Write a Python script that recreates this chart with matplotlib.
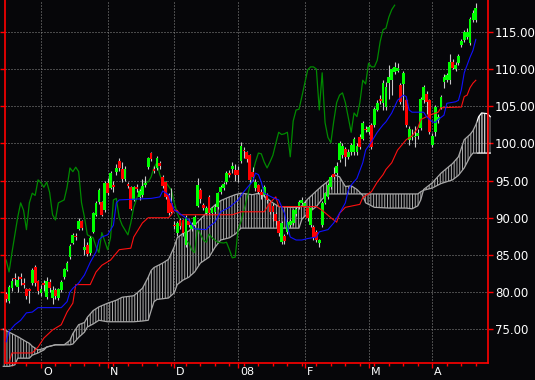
import numpy as np
import matplotlib
matplotlib.use('Agg')
import matplotlib.pyplot as plt
from matplotlib.patches import Rectangle
from matplotlib.transforms import ScaledTranslation

plt.rcParams['font.family'] = ['Liberation Sans Narrow', 'DejaVu Sans']
plt.rcParams['hatch.linewidth'] = 0.72

# --- daily candles (trading day index 0..162) ---
opens = [79.7, 78.8, 80.5, 81.9, 80.7, 82.0, 81.2, 80.4, 80.4, 81.2, 83.4, 81.5, 79.9, 81.1, 79.3, 81.3,
         79.2, 80.3, 79.2, 80.3, 82.0, 83.0, 84.7, 86.6, 87.6, 88.5, 89.6, 85.7, 86.3, 85.3, 88.1, 90.4,
         92.1, 92.1, 91.0, 94.7, 94.0, 94.4, 96.2, 97.6, 96.6, 95.2, 94.5, 94.1, 92.4, 94.1, 92.8, 93.1,
         94.4, 96.8, 98.7, 96.5, 96.7, 97.4, 95.5, 94.8, 93.1, 92.0, 89.0, 88.0, 89.7, 89.7, 86.3, 89.5,
         88.5, 89.0, 91.6, 93.7, 91.7, 90.6, 92.8, 90.6, 90.8, 91.4, 93.5, 94.0, 94.8, 96.0, 96.5, 96.4,
         96.4, 97.6, 99.1, 98.8, 98.4, 96.2, 94.0, 94.4, 93.5, 93.1, 93.1, 92.0, 91.6, 90.5, 89.5, 86.8,
         87.5, 88.1, 89.0, 89.3, 90.5, 91.5, 92.0, 91.6, 91.3, 89.0, 88.8, 88.1, 86.6, 89.0, 92.0, 92.8,
         94.1, 95.9, 96.0, 97.8, 98.5, 99.2, 98.2, 98.9, 98.9, 98.8, 100.9, 100.6, 102.0, 101.5, 102.5, 102.5,
         104.5, 106.0, 105.4, 104.9, 108.1, 108.5, 109.6, 109.8, 107.9, 108.0, 105.8, 100.5, 100.8, 100.8, 101.0, 102.1,
         105.8, 106.7, 105.8, 99.8, 101.5, 103.2, 104.8, 108.3, 108.5, 108.5, 110.9, 110.0, 110.8, 113.3, 113.9, 114.3,
         113.5, 116.6, 116.6]
highs = [80.0, 81.0, 81.9, 82.6, 82.2, 82.5, 81.9, 80.6, 80.6, 83.2, 83.6, 81.6, 81.0, 81.6, 82.0, 81.8,
         80.8, 80.6, 80.6, 81.6, 83.3, 84.2, 86.4, 88.0, 88.0, 90.0, 89.7, 87.3, 86.8, 87.5, 90.8, 92.2,
         94.0, 92.3, 95.0, 95.3, 96.3, 95.0, 97.2, 98.0, 97.5, 96.9, 94.8, 94.3, 94.3, 94.5, 93.9, 95.2,
         95.6, 98.2, 98.9, 97.0, 98.3, 97.7, 95.7, 95.0, 93.3, 94.0, 89.5, 89.5, 90.0, 89.8, 90.3, 89.8,
         89.4, 90.4, 95.3, 94.0, 92.0, 91.6, 93.0, 91.5, 91.8, 93.5, 94.4, 94.8, 96.3, 96.4, 97.5, 97.2,
         97.0, 100.2, 99.5, 99.0, 98.6, 96.8, 95.2, 94.6, 93.8, 94.4, 93.3, 92.2, 92.0, 90.8, 89.7, 89.5,
         87.8, 89.6, 89.8, 91.2, 91.5, 92.4, 92.8, 92.3, 91.5, 91.5, 89.0, 88.3, 87.2, 92.2, 93.5, 94.7,
         95.7, 96.8, 97.5, 100.3, 100.0, 99.5, 99.2, 100.0, 100.8, 100.0, 101.2, 103.0, 102.3, 102.5, 102.8, 104.9,
         105.8, 106.5, 108.5, 108.2, 110.5, 110.2, 111.0, 110.8, 108.1, 109.8, 106.0, 102.3, 102.0, 102.3, 102.0, 106.3,
         107.9, 107.0, 106.0, 101.4, 105.2, 104.0, 106.5, 109.3, 109.5, 112.0, 111.3, 111.0, 112.0, 114.0, 115.3, 115.5,
         117.0, 118.0, 118.9]
lows = [78.6, 78.5, 80.2, 80.9, 80.0, 81.0, 80.5, 79.0, 78.5, 81.0, 80.8, 79.8, 79.4, 80.2, 79.0, 80.0,
        78.4, 79.0, 78.9, 80.0, 81.8, 82.8, 84.5, 86.4, 87.0, 88.3, 88.3, 85.0, 84.9, 85.0, 88.0, 90.2,
        91.9, 90.2, 90.8, 93.0, 93.8, 93.5, 95.8, 96.3, 94.8, 95.0, 94.0, 91.0, 92.2, 93.5, 92.4, 92.8,
        94.2, 96.5, 97.6, 96.0, 96.4, 96.6, 94.0, 92.5, 90.4, 90.6, 88.5, 87.5, 88.5, 87.6, 86.0, 88.7,
        88.2, 88.8, 91.4, 92.0, 91.0, 90.3, 90.4, 90.3, 90.5, 91.2, 93.2, 93.7, 94.5, 95.5, 96.0, 95.0,
        94.8, 97.3, 98.0, 97.5, 94.8, 95.0, 93.6, 93.2, 92.5, 92.8, 92.0, 90.5, 89.5, 89.0, 87.5, 86.4,
        86.5, 87.8, 88.7, 89.0, 90.2, 91.2, 91.8, 91.4, 89.6, 88.8, 87.0, 86.7, 86.0, 88.8, 91.8, 92.5,
        93.8, 95.2, 95.8, 97.5, 98.0, 97.0, 97.9, 98.5, 98.5, 98.5, 99.2, 100.4, 101.5, 101.2, 99.2, 102.2,
        104.3, 105.3, 104.5, 104.5, 106.0, 106.5, 109.3, 109.6, 105.3, 104.5, 102.2, 99.8, 100.5, 99.5, 100.6, 101.8,
        105.5, 104.0, 101.2, 99.5, 101.0, 102.8, 104.6, 107.5, 108.2, 108.0, 110.0, 109.8, 110.5, 113.0, 113.6, 114.0,
        113.3, 116.3, 116.3]
closes = [79.0, 80.7, 81.5, 81.7, 81.6, 81.8, 81.0, 79.5, 80.2, 83.0, 81.2, 80.2, 80.4, 81.0, 81.5, 80.6,
          80.3, 79.4, 80.4, 81.4, 83.1, 83.9, 86.2, 87.7, 87.4, 89.6, 88.6, 86.1, 85.1, 87.3, 90.6, 92.0,
          93.7, 90.4, 94.7, 93.3, 96.0, 94.2, 96.7, 96.7, 95.2, 96.6, 94.3, 91.2, 94.1, 93.9, 93.6, 94.3,
          94.7, 98.0, 97.9, 96.3, 98.0, 97.0, 94.3, 92.8, 90.6, 90.8, 88.9, 89.3, 88.9, 88.0, 90.1, 89.0,
          89.0, 90.1, 94.4, 92.5, 91.3, 91.3, 90.6, 91.3, 91.5, 93.3, 94.1, 94.6, 96.0, 95.8, 96.9, 95.8,
          95.8, 99.7, 99.0, 97.9, 95.1, 95.5, 94.8, 93.5, 93.1, 94.1, 92.4, 90.8, 90.8, 89.5, 88.0, 89.3,
          86.9, 89.4, 89.6, 91.0, 91.2, 92.1, 92.4, 92.0, 89.9, 91.3, 87.3, 87.0, 87.0, 92.0, 93.3, 94.4,
          95.5, 95.5, 97.0, 100.0, 99.6, 98.2, 98.9, 99.8, 100.6, 99.6, 99.5, 102.8, 101.8, 102.2, 99.5, 104.6,
          105.4, 105.7, 108.1, 107.6, 109.0, 110.0, 110.3, 110.2, 105.6, 109.5, 102.5, 102.0, 101.0, 101.0, 101.4, 106.0,
          107.6, 105.6, 101.5, 101.0, 104.9, 103.5, 106.3, 109.0, 109.2, 111.0, 110.2, 110.6, 111.8, 113.8, 115.0, 115.0,
          116.7, 117.5, 118.2]

# --- Ichimoku lines, sampled at trading-day positions ---
tenkan_day = [0, 1, 3, 5, 7, 9, 11, 19, 21, 22, 23, 25, 27, 29, 31, 32, 33, 35, 37, 38, 39, 50, 53, 54, 56,
              58, 59, 63, 65, 69, 70, 72, 74, 77, 80, 82, 85, 86, 87, 88, 89, 92, 94, 96, 97, 98, 100, 102,
              104, 107, 108, 111, 113, 115, 117, 118, 119, 121, 123, 124, 126, 128, 130, 131, 133, 135, 137,
              138, 139, 140, 144, 145, 147, 148, 149, 151, 152, 155, 156, 157, 158, 160, 161, 162]
tenkan = [73.3, 74.7, 75.6, 76.2, 77.2, 77.3, 77.9, 77.9, 78.7, 80.0, 80.5, 81.2, 82.3, 84.0, 85.4, 87.0,
          87.4, 87.7, 89.0, 92.0, 92.4, 92.6, 92.8, 93.6, 93.1, 91.0, 90.8, 89.7, 88.5, 88.4, 88.8, 89.4,
          90.8, 91.4, 92.4, 93.5, 94.9, 96.0, 95.8, 94.8, 93.3, 92.7, 92.4, 90.6, 88.8, 87.4, 87.0, 87.0,
          87.2, 87.4, 88.1, 88.4, 89.3, 90.6, 92.0, 93.7, 94.4, 95.3, 97.4, 99.1, 100.2, 101.5, 102.5, 102.9,
          104.1, 105.8, 106.5, 106.3, 104.5, 104.2, 104.2, 103.6, 102.9, 102.8, 103.2, 103.8, 105.4, 105.6,
          105.8, 107.2, 109.5, 111.6, 112.5, 114.0]

kijun_day = [0, 1, 2, 9, 11, 13, 16, 19, 21, 23, 24, 29, 31, 33, 36, 39, 43, 44, 47, 49, 56, 57, 58, 59,
             60, 78, 81, 89, 91, 93, 94, 107, 109, 112, 114, 115, 117, 122, 123, 126, 128, 130, 131, 133,
             135, 138, 140, 142, 143, 146, 149, 150, 157, 158, 159, 160, 161, 162]
kijun = [70.0, 70.5, 71.8, 71.8, 72.6, 73.8, 74.9, 75.6, 77.3, 78.5, 81.0, 81.0, 82.7, 83.6, 84.3, 85.7,
         85.9, 87.4, 89.3, 90.0, 90.0, 90.4, 91.0, 91.0, 90.4, 90.4, 90.8, 90.8, 92.0, 92.8, 91.5, 91.5,
         91.0, 90.0, 89.4, 90.6, 91.4, 91.8, 92.7, 93.5, 94.8, 95.8, 96.5, 97.4, 99.1, 100.5, 101.0, 102.1,
         103.2, 103.8, 104.2, 104.8, 104.9, 106.3, 106.5, 107.5, 108.1, 108.5]

chikou_day = [0, 1, 2, 4, 5, 6, 7, 8, 9, 10, 11, 12, 13, 14, 15, 16, 17, 18, 20, 21, 22, 23, 24, 25, 26,
              27, 28, 30, 31, 32, 33, 35, 36, 37, 38, 39, 40, 42, 43, 44, 46, 48, 49, 50, 51, 52, 53, 54,
              55, 57, 58, 59, 60, 61, 62, 63, 64, 65, 66, 68, 69, 70, 71, 73, 75, 76, 77, 78, 79, 80, 81,
              82, 83, 84, 85, 86, 87, 88, 89, 90, 91, 92, 93, 94, 95, 96, 97, 98, 99, 100, 101, 102, 103,
              104, 105, 106, 107, 108, 109, 110, 111, 112, 113, 114, 115, 116, 117, 118, 119, 120, 121,
              122, 123, 124, 125, 126, 127, 128, 129, 130, 131, 132, 133, 134]
chikou = [84.3, 82.7, 85.3, 90.1, 92.0, 91.0, 88.4, 92.0, 93.3, 93.0, 95.1, 94.7, 94.1, 94.8, 93.4, 90.4,
          89.7, 92.0, 92.4, 94.1, 96.7, 96.2, 96.8, 96.2, 92.0, 90.1, 87.7, 87.3, 86.1, 85.3, 88.0, 85.7,
          87.3, 92.4, 92.6, 90.0, 89.0, 87.7, 89.3, 91.4, 93.7, 94.8, 94.8, 95.5, 96.8, 97.4, 95.8, 94.8,
          94.8, 93.7, 92.0, 90.6, 89.7, 88.4, 87.0, 86.6, 85.7, 85.3, 88.6, 87.0, 86.7, 87.8, 87.3, 86.7,
          86.6, 86.7, 85.7, 84.6, 84.7, 88.4, 89.5, 91.0, 92.5, 94.2, 96.0, 97.5, 98.7, 98.6, 97.5, 96.7,
          97.5, 98.4, 100.0, 101.5, 101.2, 101.3, 101.5, 98.2, 103.0, 104.5, 104.6, 106.3, 108.1, 109.9,
          110.3, 110.3, 110.0, 104.5, 109.5, 102.8, 100.8, 100.1, 103.0, 105.5, 106.5, 106.8, 105.5, 103.5,
          101.5, 104.1, 103.6, 105.5, 108.5, 108.0, 110.8, 110.3, 110.3, 111.2, 113.7, 115.3, 115.5, 117.0,
          118.0, 118.6]

cloud_day = [-1, 1, 3, 4, 7, 8, 9, 11, 13, 14, 17, 20, 22, 23, 25, 27, 28, 30, 32, 35, 38, 40, 44, 47,
             49, 50, 51, 52, 54, 56, 58, 59, 61, 63, 65, 67, 70, 72, 74, 77, 79, 81, 85, 87, 89, 92, 94,
             98, 101, 102, 104, 107, 109, 111, 113, 115, 117, 119, 121, 123, 124, 127, 132, 138, 140, 142,
             143, 144, 147, 150, 154, 156, 158, 160, 161, 162, 163, 164, 166, 167]
span_a = [75.0, 74.6, 74.2, 74.0, 73.3, 73.1, 72.7, 72.2, 72.4, 72.6, 72.9, 72.9, 73.5, 74.4, 75.6, 75.9,
          76.6, 77.5, 78.0, 78.5, 78.9, 79.3, 79.5, 80.5, 82.0, 82.9, 83.3, 83.5, 83.9, 84.4, 86.1, 87.3,
          87.9, 88.2, 89.0, 89.8, 91.0, 91.7, 92.3, 92.8, 93.1, 93.3, 93.1, 93.3, 92.9, 92.0, 91.5, 91.4,
          91.4, 91.6, 92.5, 93.6, 94.3, 94.9, 95.8, 95.5, 94.2, 94.3, 93.8, 93.0, 92.0, 91.4, 91.3, 91.3,
          91.2, 91.6, 92.4, 93.8, 94.7, 96.0, 97.3, 98.2, 100.5, 101.2, 101.7, 102.5, 103.6, 104.1, 104.0,
          103.6]
span_b = [70.0, 70.0, 70.2, 71.1, 71.1, 71.1, 71.5, 71.8, 72.2, 72.6, 72.9, 72.9, 72.9, 73.0, 73.9, 74.6,
          75.3, 75.7, 76.2, 76.0, 76.0, 76.0, 76.0, 76.1, 76.2, 77.5, 78.7, 79.0, 79.1, 79.2, 79.9, 81.0,
          81.6, 82.0, 82.7, 83.9, 84.7, 86.0, 87.0, 87.3, 87.8, 88.6, 88.6, 88.6, 88.6, 88.6, 88.6, 88.6,
          88.6, 89.8, 90.6, 91.5, 92.5, 93.2, 93.2, 93.2, 93.2, 93.2, 93.2, 93.2, 93.2, 93.2, 93.2, 93.2,
          93.2, 93.2, 93.5, 93.7, 94.0, 94.6, 95.1, 95.7, 96.7, 98.2, 98.7, 98.7, 98.7, 98.7, 98.7, 98.7]

month_start = [12, 35, 58, 80, 103, 125, 147]
month_labels = ['O', 'N', 'D', '08', 'F', 'M', 'A']
price_ticks = [75, 80, 85, 90, 95, 100, 105, 110, 115]

bg = '#060609'
axis_red = '#ff0000'

fig = plt.figure(figsize=(5.35, 3.8), dpi=100, facecolor=bg)
ax = fig.add_axes([5 / 535, 17 / 380, 483 / 535, 363 / 380], facecolor=bg)

days = np.arange(len(closes))
last_day = days[-1]

# --- cloud: grey hatch up to the last candle, white for the projected part ---
past_clip = Rectangle((-5, 0), last_day + 5.5, 200, transform=ax.transData)
future_clip = Rectangle((last_day + 0.5, 0), 50, 200, transform=ax.transData)
for clip, col in [(past_clip, '#a8a8a8'), (future_clip, '#ffffff')]:
    poly = ax.fill_between(cloud_day, span_a, span_b, facecolor='none', edgecolor=col,
                           hatch='||||||', linewidth=0, zorder=1)
    poly.set_clip_path(clip)
    for edge in (span_a, span_b):
        ln, = ax.plot(cloud_day, edge, color=col, lw=0.9, zorder=1.5)
        ln.set_clip_path(clip)

# --- lagging span, conversion and base lines ---
ax.plot(chikou_day, chikou, color='#008a00', lw=0.9, zorder=2)
ax.plot(kijun_day, kijun, color='#ff1010', lw=0.8, zorder=4)
ax.plot(tenkan_day, tenkan, color='#1010ff', lw=0.8, zorder=4)

# --- candles ---
o = np.array(opens)
c = np.array(closes)
up = c >= o
body_bottom = np.minimum(o, c)
body_height = np.maximum(np.abs(c - o), 0.18)
ax.vlines(days, lows, highs, color='#c8c8c8', lw=0.8, zorder=3)
ax.bar(days, body_height, bottom=body_bottom, width=0.95, linewidth=0,
       color=np.where(up, '#00ff00', '#ff0000'), zorder=3.5)

# --- axes styling ---
ax.set_xlim(-0.4, 166.2)
ax.set_ylim(70.45, 119.3)
for side in ['left', 'right', 'bottom']:
    ax.spines[side].set_color(axis_red)
    ax.spines[side].set_linewidth(1.2)
ax.spines['top'].set_visible(False)

ax.set_yticks(price_ticks)
ax.set_yticklabels([f'{p:.2f}' for p in price_ticks])
ax.tick_params(axis='y', left=True, right=True, labelleft=False, labelright=True,
               direction='out', length=3.6, width=1, color=axis_red, labelcolor='white',
               labelsize=8.5, pad=1.5)

ax.set_xticks(month_start)
ax.set_xticklabels(month_labels)
ax.set_xticks(range(2, 166, 5), minor=True)
ax.tick_params(axis='x', which='major', direction='out', length=3.6, width=1, color=axis_red,
               labelcolor='white', labelsize=8, pad=0)
ax.tick_params(axis='x', which='minor', direction='out', length=2.2, width=1, color=axis_red)
shift = ScaledTranslation(2 / 100, 1 / 100, fig.dpi_scale_trans)
for lab in ax.get_xticklabels():
    lab.set_horizontalalignment('left')
    lab.set_transform(lab.get_transform() + shift)

ax.grid(True, which='major', color='#8c8c8c', linestyle=(0, (1, 2)), linewidth=0.72)
ax.set_axisbelow(True)

fig.savefig('out.png', dpi=100, facecolor=bg)
